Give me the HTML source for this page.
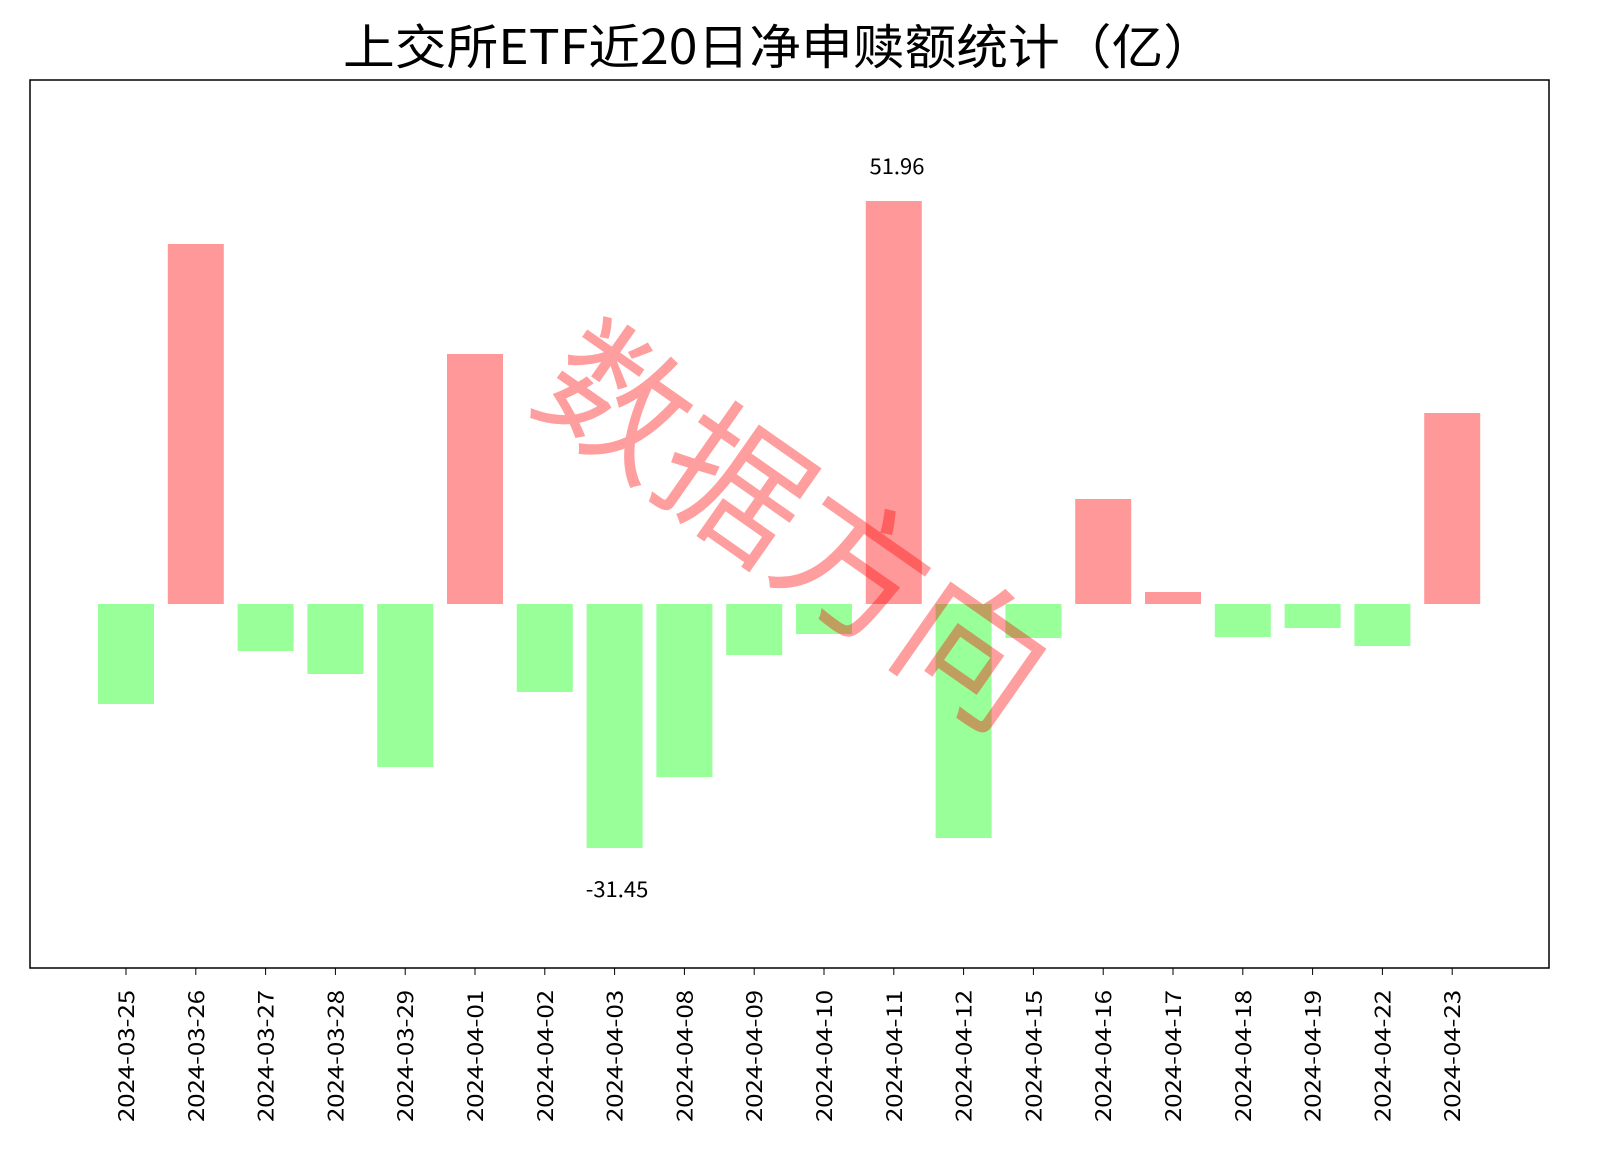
<!DOCTYPE html>
<html><head><meta charset="utf-8"><style>
body{margin:0;background:#fff;width:1599px;height:1166px;overflow:hidden}
</style></head><body>
<svg width="1599" height="1166" xmlns="http://www.w3.org/2000/svg" font-family="'WenQuanYi Zen Hei','Noto Sans CJK SC',sans-serif">
<text x="343" y="64" font-size="48" textLength="872" lengthAdjust="spacingAndGlyphs" fill="#000">上交所ETF近20日净申赎额统计（亿）</text>
<rect x="30" y="80" width="1519" height="888" fill="none" stroke="#000" stroke-width="1.5"/>
<g id="bars"></g>
<text x="897" y="174" font-size="22" text-anchor="middle">51.96</text>
<text x="617" y="897" font-size="22" text-anchor="middle">-31.45</text>
<g id="ticks"></g>
<text x="792" y="578" font-size="145" text-anchor="middle" fill="rgba(255,0,0,0.38)" transform="rotate(35 792 530)">数据方向</text>
</svg>
<script>
var d=[[604,704],[244,604],[604,651],[604,674],[604,767],[354,604],[604,692],[604,848],[604,777],[604,655],[604,634],[201,604],[604,838],[604,638],[499,604],[592,604],[604,637],[604,628],[604,646],[413,604]];
var L=["2024-03-25","2024-03-26","2024-03-27","2024-03-28","2024-03-29","2024-04-01","2024-04-02","2024-04-03","2024-04-08","2024-04-09","2024-04-10","2024-04-11","2024-04-12","2024-04-15","2024-04-16","2024-04-17","2024-04-18","2024-04-19","2024-04-22","2024-04-23"];
var b="",t="";
for(var i=0;i<20;i++){var c=126+i*69.8;var r=d[i][0]<604;
b+='<rect x="'+(c-28)+'" y="'+d[i][0]+'" width="56" height="'+(d[i][1]-d[i][0])+'" fill="'+(r?'#ff9999':'#99ff99')+'"/>';
t+='<line x1="'+c+'" y1="968" x2="'+c+'" y2="975" stroke="#000"/>';
t+='<text x="'+(c+8)+'" y="990" font-size="22" text-anchor="end" textLength="132" lengthAdjust="spacingAndGlyphs" transform="rotate(-90 '+(c+8)+' 990)">'+L[i]+'</text>';}
document.getElementById("bars").innerHTML=b;
document.getElementById("ticks").innerHTML=t;
</script>
</body></html>
